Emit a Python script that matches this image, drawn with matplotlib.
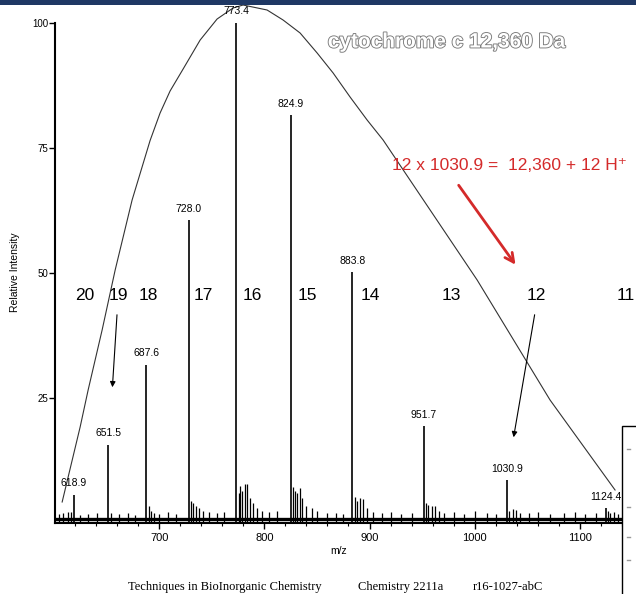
import matplotlib.pyplot as plt
import matplotlib.patheffects as pe
from matplotlib.patches import Rectangle
from matplotlib.ticker import MultipleLocator

plt.rcParams['font.family'] = ['Liberation Sans', 'DejaVu Sans']

# main charge-state peaks (m/z, relative intensity)
peak_mz = [618.9, 651.5, 687.6, 728.0, 773.4, 824.9, 883.8, 951.7, 1030.9, 1124.4]
peak_int = [5.6, 15.6, 31.6, 60.6, 100, 81.6, 50.2, 19.4, 8.6, 3.0]

# adduct shoulders and noise spikes
minor_mz = [605, 609, 613.5, 616, 625, 632, 641, 654, 662, 670, 677,
            690, 692, 695, 700, 708, 716,
            730, 732, 735, 738, 742, 747, 755, 762,
            775.5, 777, 779, 781.5, 783.5, 786, 789, 793, 798, 804, 812,
            827, 829, 831, 834, 836, 840, 845, 850, 860, 868, 875,
            886, 888, 891, 894, 898, 903, 912, 920, 930, 940,
            953.5, 956, 959, 962, 966, 971, 980, 990, 1000, 1012, 1020,
            1033, 1036, 1039, 1043, 1052, 1060, 1072, 1085, 1095, 1105, 1115,
            1126.5, 1129, 1132, 1136]
minor_int = [1.8, 2.0, 2.2, 2.3, 1.7, 1.9, 2.0, 2.0, 1.8, 2.1, 1.6,
             3.5, 2.5, 2.0, 1.9, 2.2, 1.8,
             4.5, 4.0, 3.5, 3.0, 2.5, 2.2, 2.0, 2.3,
             6.0, 7.5, 6.5, 7.8, 7.8, 5.0, 4.0, 3.0, 2.5, 2.2, 2.4,
             7.2, 6.5, 6.0, 7.0, 5.0, 3.5, 3.0, 2.5, 2.1, 2.0, 1.8,
             5.2, 4.5, 5.0, 4.8, 3.0, 2.2, 2.0, 2.3, 1.9, 2.1,
             4.0, 3.6, 3.4, 3.5, 2.5, 2.0, 2.2, 1.9, 2.4, 2.0, 1.8,
             2.5, 2.8, 2.6, 2.0, 2.0, 2.2, 1.9, 2.1, 2.3, 1.8, 2.0,
             2.5, 2.0, 2.2, 1.9]
baseline = 0.9

# hand-drawn envelope over the charge-state distribution
env_mz = [607.8, 624.9, 632.5, 645.8, 658.2, 674.3, 691.4, 700.9, 710.4, 722.8, 739.0,
          755.1, 770.3, 779.8, 802.6, 817.8, 834.0, 850.2, 865.4, 881.5, 897.7,
          912.9, 1002.3, 1071.6, 1133.4]
env_int = [4.2, 19.2, 26.6, 38.6, 50.6, 64.6, 76.5, 82.0, 86.4, 90.8, 96.6,
           100.8, 103.0, 103.6, 102.6, 100.6, 98.0, 94.0, 90.0, 85.2, 80.6,
           76.6, 48.6, 24.6, 6.6]

charges = ['20', '19', '18', '17', '16', '15', '14', '13', '12', '11']
charge_mz = [629.6, 661, 689.5, 741.8, 788.4, 840.7, 900.5, 977.5, 1058.3, 1144.0]
charge_y = 45.4

fig = plt.figure(figsize=(6.36, 5.94), dpi=100)
ax = fig.add_axes([55 / 636, 1 - 523 / 594, (622 - 55) / 636, 523 / 594])

ax.plot([601, 1140], [baseline, baseline], color='black', lw=2.4, solid_capstyle='butt')
ax.vlines(minor_mz, 0, minor_int, color='black', lw=0.9)
ax.vlines(peak_mz, 0, peak_int, color='black', lw=1.2)
ax.plot(env_mz, env_int, color='#333333', lw=0.8)

for mz, h in zip(peak_mz, peak_int):
    ax.text(mz, h + 1.3, '%.1f' % mz, ha='center', va='bottom', fontsize=7.5)

for lab, mz in zip(charges, charge_mz):
    ax.text(mz, charge_y, lab, ha='center', va='center', fontsize=12.5, clip_on=False)

ax.annotate('', xy=(655.4, 26.6), xytext=(660.1, 42.2),
            arrowprops=dict(arrowstyle='-|>', color='black', lw=0.8, mutation_scale=8))
ax.annotate('', xy=(1036.5, 16.6), xytext=(1057.4, 42.2),
            arrowprops=dict(arrowstyle='-|>', color='black', lw=0.8, mutation_scale=8))
ax.annotate('', xy=(1040.3, 51.2), xytext=(983.2, 68),
            arrowprops=dict(arrowstyle='->', color='#d42a2a', lw=2, mutation_scale=16))

ax.set_xlim(601, 1140)
ax.set_ylim(0, 104.6)
ax.spines['top'].set_visible(False)
ax.spines['right'].set_visible(False)
ax.spines['left'].set_linewidth(1.5)
ax.spines['bottom'].set_linewidth(1.5)
ax.spines['left'].set_bounds(0, 100)
ax.set_yticks([25, 50, 75, 100])
ax.set_xticks([700, 800, 900, 1000, 1100])
ax.xaxis.set_minor_locator(MultipleLocator(20))
ax.tick_params(axis='y', direction='out', length=4, width=1, labelsize=7, pad=1)
ax.tick_params(axis='x', direction='out', length=4, width=1, labelsize=8, pad=3)
ax.tick_params(axis='x', which='minor', direction='out', length=2.5, width=0.8)
ax.set_xlabel('m/z', fontsize=7.5, labelpad=2)

fig.text(15 / 636, 1 - 272 / 594, 'Relative Intensity', rotation=90,
         ha='center', va='center', fontsize=7.5)

t = fig.text(447 / 636, 1 - 42 / 594, 'cytochrome c 12,360 Da', ha='center', va='center',
             fontsize=15, fontweight='bold', color='white')
t.set_path_effects([pe.withStroke(linewidth=1.3, foreground='#7a7a7a')])

fig.text(392 / 636, 1 - 165 / 594, '12 x 1030.9 =  12,360 + 12 H\u207a', ha='left',
         va='center', fontsize=12.5, color='#d42a2a')

fig.text(128 / 636, 1 - 587 / 594, 'Techniques in BioInorganic Chemistry',
         family='Liberation Serif', fontsize=9, va='center')
fig.text(358 / 636, 1 - 587 / 594, 'Chemistry 2211a',
         family='Liberation Serif', fontsize=9, va='center')
fig.text(473 / 636, 1 - 587 / 594, 'r16-1027-abC',
         family='Liberation Serif', fontsize=9, va='center')

# slide decorations: top banner and boxed panel at the lower right
fig.patches.append(Rectangle((0, 1 - 5 / 594), 1, 5 / 594, transform=fig.transFigure,
                             facecolor='#1f3864', edgecolor='none'))
fig.patches.append(Rectangle((622 / 636, -0.01), 0.1, 1 - 426 / 594 + 0.01,
                             transform=fig.transFigure, facecolor='white',
                             edgecolor='black', lw=1, zorder=5))
for yy in [449, 507, 537, 560]:
    fig.lines.append(plt.Line2D([627 / 636, 630 / 636], [1 - yy / 594, 1 - yy / 594],
                                transform=fig.transFigure, color='#999999', lw=1, zorder=6))

fig.savefig('out.png', dpi=100)
